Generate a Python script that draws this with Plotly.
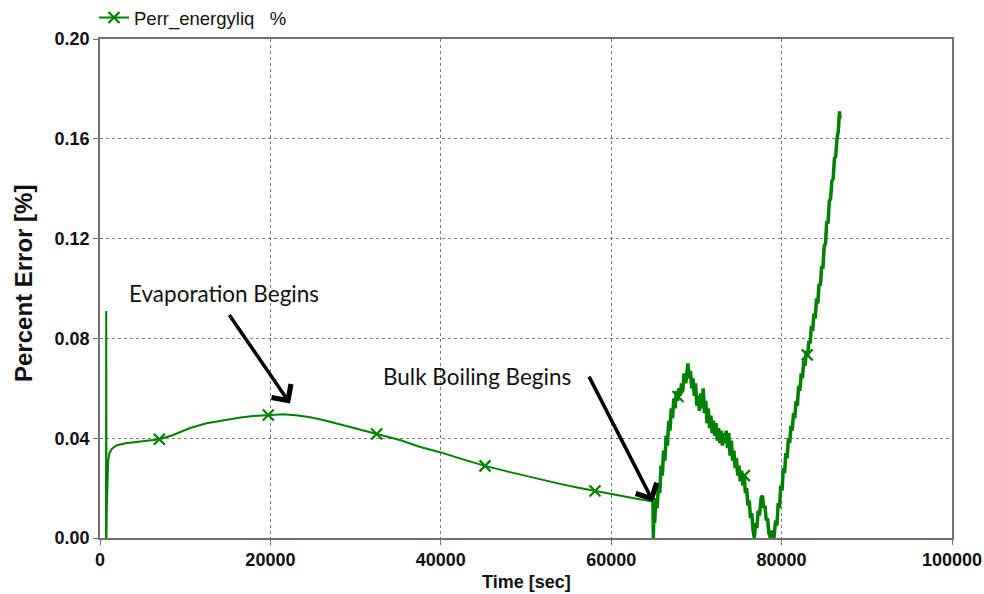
import plotly.graph_objects as go

# ---- data ----
# smooth part (start-up spike and slow drift until bulk boiling)
smooth_time = [700, 730, 760, 800, 850, 950, 1100, 1400, 2000, 3000, 4500, 7000,
               8500, 10500, 12500, 14500, 16500, 18000, 19800, 21500, 23000, 24500,
               26200, 28000, 30000, 32500, 35200, 37500, 40000, 42500, 45200, 48000,
               51000, 54000, 56000, 58100, 61000, 63000, 64900]
smooth_err = [0.0, 0.091, 0.0, 0.012, 0.024, 0.0305, 0.034, 0.0358, 0.0372, 0.038,
              0.0386, 0.0396, 0.0412, 0.0440, 0.0460, 0.0473, 0.0483, 0.0489, 0.0493,
              0.0496, 0.0492, 0.0485, 0.0473, 0.0457, 0.0438, 0.0417, 0.0393, 0.0366,
              0.0343, 0.0316, 0.0289, 0.0265, 0.0240, 0.0217, 0.0202, 0.0188, 0.0170,
              0.0157, 0.0146]

# noisy part after bulk boiling begins
boil_time = [64900, 64950, 65000, 65100, 65250, 65400, 65550, 65700, 65850, 66000,
             66150, 66300, 66450, 66600, 66750, 66900, 67050, 67200, 67350, 67500,
             67650, 67800, 67950, 68100, 68250, 68400, 68550, 68750, 68900, 69000,
             69150, 69300, 69450, 69600, 69750, 69900, 70050, 70200, 70350, 70500,
             70650, 70800, 70950, 71100, 71250, 71400, 71550, 71700, 71850, 72000,
             72150, 72300, 72450, 72600, 72750, 72900, 73050, 73200, 73350, 73500,
             73650, 73800, 73950, 74100, 74250, 74400, 74550, 74700, 74850, 75000,
             75150, 75300, 75450, 75600, 75750, 75900, 76050, 76200, 76350, 76500,
             76650, 76800, 76950, 77100, 77250, 77400, 77600, 77750, 77900, 78050,
             78200, 78350, 78500, 78700, 78900, 79100, 79300, 79450, 79600, 79750,
             79900, 80050, 80200, 80350, 80500, 80650, 80800, 80950, 81100, 81250,
             81400, 81550, 81700, 81850, 82000, 82150, 82300, 82450, 82600, 82750,
             82900, 83050, 83200, 83350, 83500, 83650, 83800, 83950, 84100, 84250,
             84400, 84550, 84700, 84850, 85000, 85150, 85300, 85450, 85600, 85750,
             85900, 86050, 86200, 86350, 86500, 86650, 86800, 86850]
boil_err = [0.0146, 0.000, 0.010, 0.006, 0.016, 0.012, 0.022, 0.018, 0.029, 0.025,
            0.035, 0.031, 0.041, 0.037, 0.047, 0.043, 0.052, 0.048, 0.056, 0.052,
            0.059, 0.055, 0.060, 0.057, 0.062, 0.059, 0.066, 0.062, 0.069, 0.070,
            0.064, 0.067, 0.060, 0.064, 0.057, 0.062, 0.053, 0.057, 0.051, 0.058,
            0.052, 0.060, 0.050, 0.055, 0.046, 0.052, 0.044, 0.049, 0.042, 0.047,
            0.041, 0.046, 0.039, 0.044, 0.038, 0.043, 0.037, 0.042, 0.038, 0.043,
            0.036, 0.042, 0.033, 0.039, 0.031, 0.035, 0.028, 0.032, 0.025, 0.029,
            0.023, 0.027, 0.021, 0.025, 0.018, 0.020, 0.013, 0.015, 0.008, 0.010,
            0.003, 0.000, 0.006, 0.004, 0.011, 0.009, 0.016, 0.017, 0.012, 0.013,
            0.007, 0.008, 0.002, 0.000, 0.003, 0.000, 0.007, 0.005, 0.014, 0.012,
            0.021, 0.019, 0.028, 0.026, 0.034, 0.032, 0.040, 0.038, 0.045, 0.043,
            0.050, 0.048, 0.055, 0.053, 0.061, 0.059, 0.066, 0.064, 0.071, 0.069,
            0.075, 0.073, 0.079, 0.078, 0.085, 0.083, 0.090, 0.088, 0.096, 0.094,
            0.102, 0.101, 0.109, 0.108, 0.117, 0.118, 0.127, 0.126, 0.135, 0.136,
            0.143, 0.144, 0.152, 0.153, 0.160, 0.163, 0.171, 0.168]

# positions of the "x" markers along the curve
marker_time = [6960, 19760, 32470, 45190, 58100, 67840, 75630, 83000]
marker_err = [0.0396, 0.0493, 0.0417, 0.0289, 0.0188, 0.0567, 0.0250, 0.0734]

x_ticks = [0, 20000, 40000, 60000, 80000, 100000]
y_ticks = [0.00, 0.04, 0.08, 0.12, 0.16, 0.20]

series_name = "Perr_energyliq&nbsp;&nbsp;&nbsp;%"
GREEN = "#008000"
SANS = "Liberation Sans, Arial, sans-serif"

fig = go.Figure()
fig.add_trace(go.Scatter(x=smooth_time, y=smooth_err, mode="lines",
                         line=dict(color=GREEN, width=2), showlegend=False,
                         hoverinfo="skip"))
fig.add_trace(go.Scatter(x=boil_time, y=boil_err, mode="lines",
                         line=dict(color=GREEN, width=3.5), showlegend=False,
                         hoverinfo="skip"))
fig.add_trace(go.Scatter(x=marker_time, y=marker_err, mode="markers",
                         marker=dict(symbol="x-thin", size=11,
                                     line=dict(color=GREEN, width=2.2)),
                         showlegend=False, hoverinfo="skip"))
fig.add_trace(go.Scatter(x=[None], y=[None], mode="lines+markers", name=series_name,
                         line=dict(color=GREEN, width=2),
                         marker=dict(symbol="x-thin", size=11,
                                     line=dict(color=GREEN, width=2.2))))

AX = "#707070"
axis_common = dict(showline=True, linecolor=AX, linewidth=1.5, mirror=True,
                   ticks="outside", ticklen=5, tickcolor=AX, tickwidth=1,
                   showgrid=True, gridcolor="#7a7a7a", griddash="dot", gridwidth=1,
                   zeroline=False,
                   tickfont=dict(family=SANS, size=18, color="#111111",
                                 weight="bold"))

fig.update_xaxes(range=[0, 100000], tickvals=x_ticks,
                 ticktext=[str(v) for v in x_ticks], **axis_common)
fig.update_yaxes(range=[0, 0.2], tickvals=y_ticks,
                 ticktext=["%.2f" % v for v in y_ticks], **axis_common)

fig.update_layout(
    width=984, height=594,
    margin=dict(l=100, r=32, t=39, b=56, autoexpand=False),
    paper_bgcolor="white", plot_bgcolor="white",
    font=dict(family=SANS, color="#111111"),
    legend=dict(x=94 / 984, y=1 - 18 / 594, xref="container", yref="container",
                xanchor="left", yanchor="middle", bgcolor="rgba(0,0,0,0)",
                font=dict(family=SANS, size=18.5, color="#111111"),
                itemwidth=30),
)

# axis titles
fig.add_annotation(x=(24 - 100) / 852, y=(537.7 - 284) / 498.4, xref="paper",
                   yref="paper", xanchor="center", yanchor="middle",
                   text="Percent Error [%]", textangle=-90, showarrow=False,
                   font=dict(family=SANS, size=24, color="#111111", weight="bold"))
fig.add_annotation(x=0.5, y=(537.7 - 582) / 498.4, xref="paper", yref="paper",
                   xanchor="center", yanchor="middle",
                   text="Time [sec]", showarrow=False,
                   font=dict(family=SANS, size=18, color="#111111", weight="bold"))

# annotations
note_font = dict(family="Lato, Carlito, sans-serif", size=22.5, color="#111111")
fig.add_annotation(x=14550, y=0.0978, xref="x", yref="y", text="Evaporation Begins",
                   showarrow=False, font=note_font)
fig.add_annotation(x=22300, y=0.0539, ax=15060, ay=0.0900, xref="x", yref="y",
                   axref="x", ayref="y", text="", showarrow=True, arrowhead=4,
                   arrowsize=1.3, arrowwidth=3.5, arrowcolor="black", standoff=0)
fig.add_annotation(x=44300, y=0.0649, xref="x", yref="y", text="Bulk Boiling Begins",
                   showarrow=False, font=note_font)
fig.add_annotation(x=64940, y=0.0145, ax=57310, ay=0.0653, xref="x", yref="y",
                   axref="x", ayref="y", text="", showarrow=True, arrowhead=4,
                   arrowsize=1.3, arrowwidth=3.5, arrowcolor="black", standoff=0)

fig.write_html("out.html")
